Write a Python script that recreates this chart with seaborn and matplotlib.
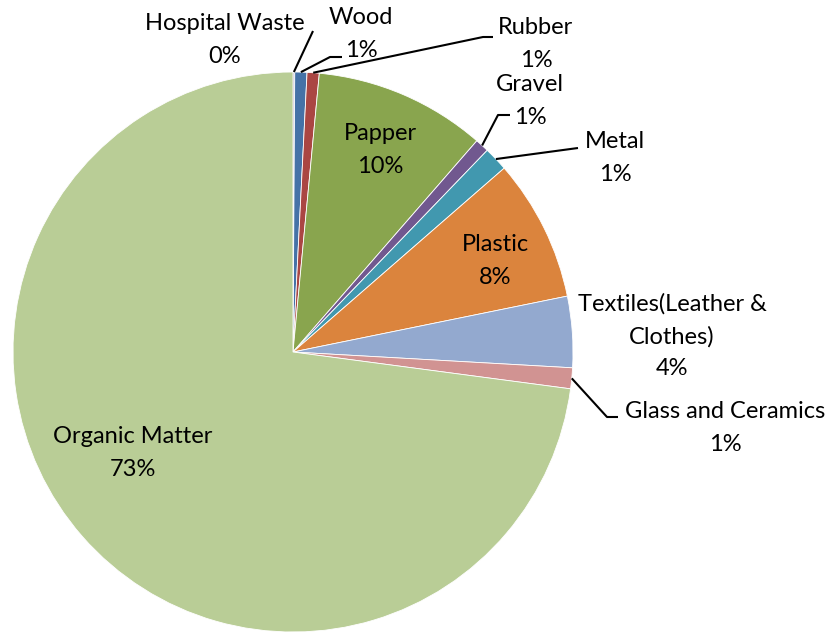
import numpy as np
import matplotlib
matplotlib.use("Agg")
import matplotlib.pyplot as plt
import seaborn as sns

sns.set_theme(style="white")
plt.rcParams['font.family'] = ['Lato', 'DejaVu Sans']

# Waste composition (percent), clockwise from 12 o'clock
categories = ["Hospital Waste", "Wood", "Rubber", "Papper", "Gravel", "Metal",
              "Plastic", "Textiles(Leather &\nClothes)", "Glass and Ceramics", "Organic Matter"]
values = [0.1, 0.7, 0.7, 9.9, 0.8, 1.4, 8.2, 4.1, 1.2, 72.9]
pct_labels = ["0%", "1%", "1%", "10%", "1%", "1%", "8%", "4%", "1%", "73%"]
colors = ["#A99BBD", "#4572A7", "#AA4643", "#89A54E", "#71588F", "#4198AF",
          "#DB843D", "#93A9CF", "#D19392", "#B9CD96"]

W, H = 835, 632
fig = plt.figure(figsize=(W / 100, H / 100), dpi=100)
ax = fig.add_axes([0, 0, 1, 1])

cx, cy, R = 293, H - 352, 280
wedges, _ = ax.pie(values, colors=sns.color_palette(colors), startangle=90,
                   counterclock=False, center=(cx, cy), radius=R,
                   wedgeprops=dict(edgecolor="white", linewidth=0.6))
ax.set_xlim(0, W)
ax.set_ylim(0, H)
ax.set_aspect("equal")
ax.axis("off")

# label placement (pixel coords from top-left), leader path
label_pos = {
    0: (225, 40, [(313, 31)]),
    1: (361, 34, [(330, 57), (342, 57)]),
    2: (536, 44, [(483, 37), (493, 37)]),
    3: (380, 150, None),
    4: (530, 101, [(498, 115), (510, 115)]),
    5: (615, 158, [(578, 148)]),
    6: (495, 261, None),
    7: (672, 336, None),
    8: (725, 428, [(607, 417), (618, 417)]),
    9: (133, 453, None),
}

for i, w in enumerate(wedges):
    x, y, path = label_pos[i]
    ax.text(x, H - y, f"{categories[i]}\n{pct_labels[i]}", ha="center", va="center",
            fontsize=17, color="black", linespacing=1.65)
    if path:
        ang = np.deg2rad((w.theta1 + w.theta2) / 2)
        px, py = cx + R * np.cos(ang), cy + R * np.sin(ang)
        xs = [px] + [p[0] for p in path]
        ys = [py] + [H - p[1] for p in path]
        ax.plot(xs, ys, color="black", lw=1.5, solid_capstyle="butt")

fig.savefig("out.png", dpi=100, facecolor="white")
